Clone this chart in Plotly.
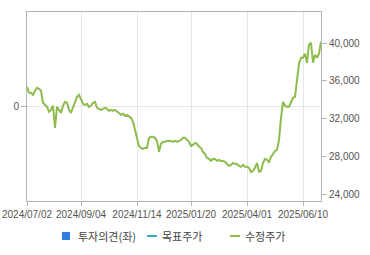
import plotly.graph_objects as go

# adjusted close price (수정주가), sampled roughly every ~1.7 trading days
price = [35360, 34730, 34730, 34520, 34940, 35260, 35150, 34940, 33670, 33450,
         33240, 32710, 32920, 33350, 31010, 33240, 32920, 32600, 33350, 33770,
         33670, 32920, 32600, 33130, 33670, 34300, 34520, 33980, 33560, 33450,
         33560, 33240, 33350, 33670, 33770, 33130, 33030, 32920, 33030, 33130,
         33030, 32820, 32920, 32820, 32920, 32710, 32600, 32390, 32500, 32290,
         32390, 32180, 32070, 31650, 30800, 29850, 29100, 28890, 28790, 28890,
         28890, 29950, 30060, 30060, 29950, 29630, 28470, 29320, 29530, 29530,
         29630, 29630, 29630, 29530, 29630, 29530, 29630, 29740, 29950, 29950,
         29740, 29530, 29100, 29210, 29420, 29320, 29000, 28890, 28470, 28250,
         27830, 27720, 27510, 27720, 27720, 27510, 27620, 27510, 27510, 27400,
         27190, 26980, 27090, 27300, 27190, 27190, 26980, 26880, 27090, 26880,
         26880, 26770, 26350, 26450, 26770, 27300, 26350, 26450, 27300, 27720,
         27620, 27400, 27930, 28250, 28570, 28680, 29740, 32070, 33770, 33350,
         33240, 33240, 33770, 34200, 34300, 35890, 37800, 38440, 38440, 38870,
         37910, 39820, 40030, 37910, 38760, 38440, 38870, 40140]
idx = list(range(len(price)))

# investment opinion (투자의견) - no bars visible in the period
opinion = [0]
opinion_x = [0]

tick_idx = [0, 27, 55, 82, 110, 138]
tick_labels = ["2024/07/02", "2024/09/04", "2024/11/14", "2025/01/20", "2025/04/01", "2025/06/10"]

right_ticks = [24000, 28000, 32000, 36000, 40000]
left_ticks = [0]

legend_names = ["투자의견(좌)", "목표주가", "수정주가"]
legend_colors = ["#2f7fe0", "#3aaebd", "#8dbb4c"]

green = "#8dbb4c"
border = "#b4b4b4"
grid = "#e6e6e6"
txt = "#555555"
font_main = "Liberation Sans, Arial, sans-serif"

fig = go.Figure()
fig.add_trace(go.Scatter(x=opinion_x, y=opinion, mode="none", yaxis="y",
                         name=legend_names[0], showlegend=False, hoverinfo="skip"))
fig.add_trace(go.Scatter(x=idx, y=price, mode="lines", yaxis="y2",
                         line=dict(color=green, width=2), name=legend_names[2],
                         showlegend=False, hoverinfo="skip"))

fig.update_layout(
    width=370, height=255,
    margin=dict(l=27, r=49, t=12, b=54),
    paper_bgcolor="white", plot_bgcolor="white",
    showlegend=False,
    font=dict(family=font_main, size=10, color=txt),
    xaxis=dict(range=[0, len(price) - 1], tickmode="array", tickvals=tick_idx,
               ticktext=tick_labels, showgrid=True, gridcolor=grid, gridwidth=1,
               showline=True, linecolor=border, linewidth=1, mirror=True,
               ticks="outside", ticklen=4, tickcolor=border, zeroline=False,
               automargin=False, tickfont=dict(size=10, color=txt)),
    yaxis=dict(range=[-1, 1], tickmode="array", tickvals=left_ticks,
               ticktext=["0"], showgrid=True, gridcolor=grid,
               showline=True, linecolor=border, linewidth=1, mirror=True,
               ticks="outside", ticklen=5, tickcolor=border, zeroline=False,
               automargin=False, tickfont=dict(size=10, color=txt)),
    yaxis2=dict(range=[23260, 43290], overlaying="y", side="right",
                tickmode="array", tickvals=right_ticks,
                ticktext=[f"{v:,}" for v in right_ticks], showgrid=False,
                showline=True, linecolor=border, linewidth=1,
                ticks="outside", ticklen=5, tickcolor=border, zeroline=False,
                automargin=False, tickfont=dict(size=10, color=txt)),
)

# manual legend (paper coordinates, px converted)
pw, ph = 370 - 27 - 49, 255 - 12 - 54
def px(x):
    return (x - 27) / pw
def py(y):
    return (255 - 54 - y) / ph

ly = 236
shapes = [
    dict(type="rect", xref="paper", yref="paper", x0=px(62), x1=px(70),
         y0=py(ly + 4), y1=py(ly - 4), fillcolor=legend_colors[0], line=dict(width=0)),
    dict(type="line", xref="paper", yref="paper", x0=px(147), x1=px(157),
         y0=py(ly), y1=py(ly), line=dict(color=legend_colors[1], width=2)),
    dict(type="line", xref="paper", yref="paper", x0=px(230), x1=px(240),
         y0=py(ly), y1=py(ly), line=dict(color=legend_colors[2], width=2)),
]
fig.update_layout(shapes=shapes)
for name, xs in zip(legend_names, [76, 160, 243]):
    fig.add_annotation(xref="paper", yref="paper", x=px(xs), y=py(ly),
                       xanchor="left", yanchor="middle", showarrow=False,
                       text=name, font=dict(family="Noto Sans CJK KR", size=11, color="#444444"))

fig.write_html("out.html")
